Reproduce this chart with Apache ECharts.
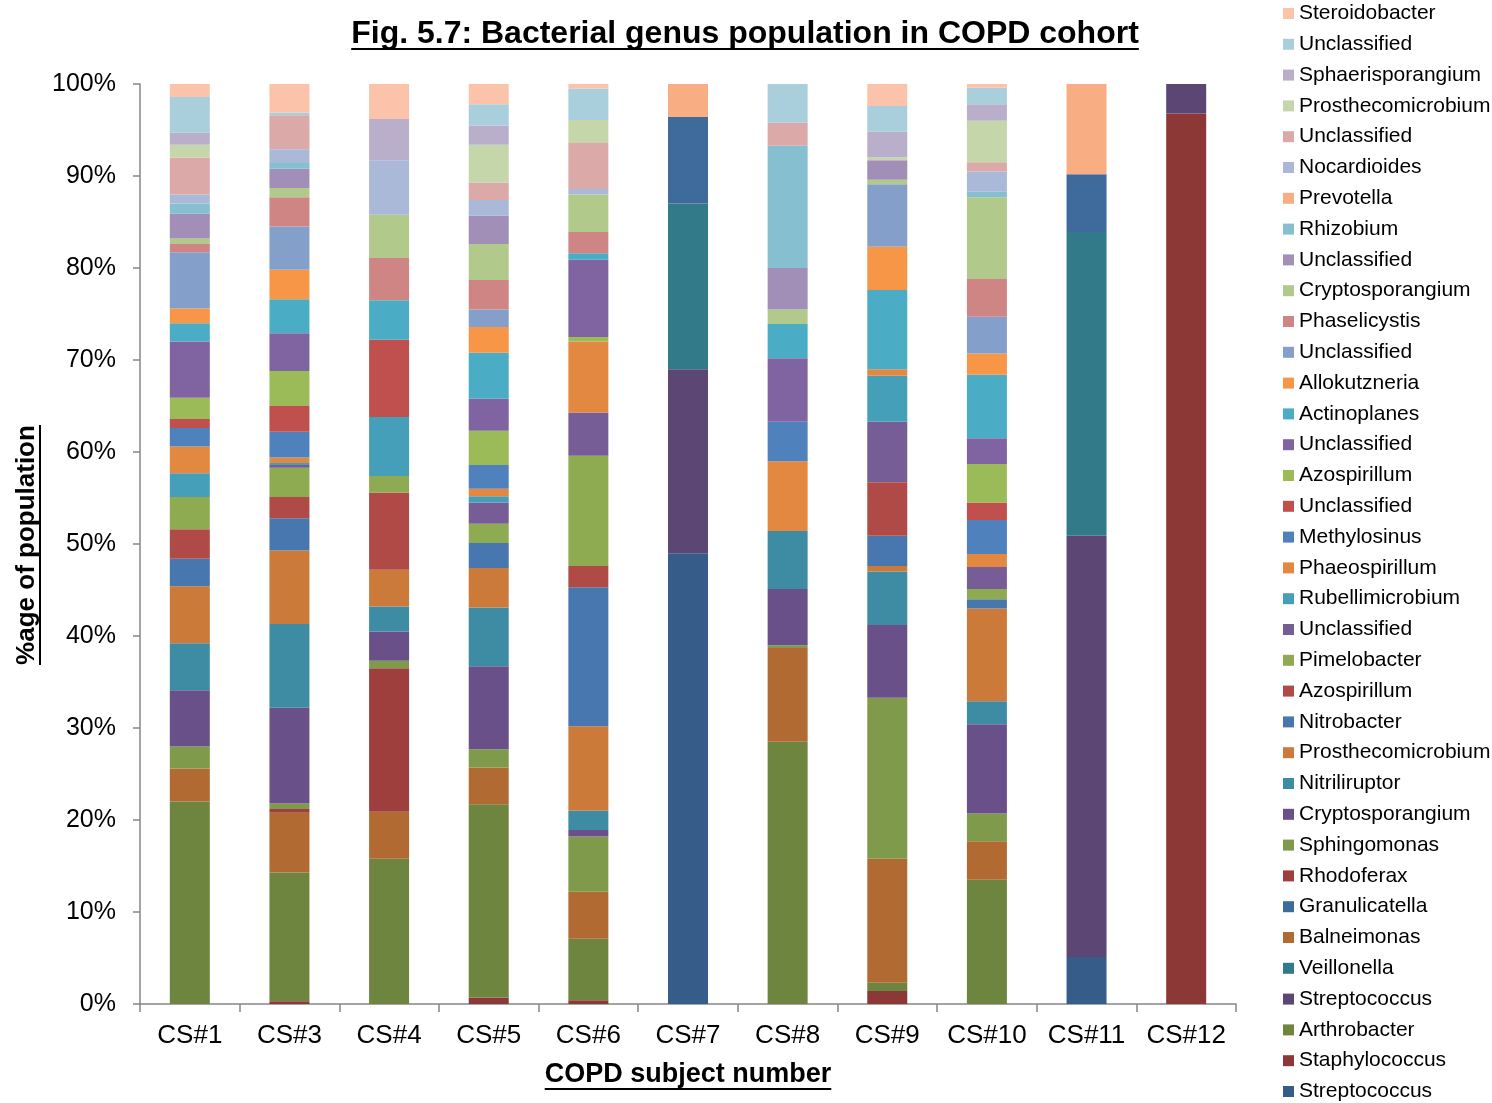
<!DOCTYPE html>
<html>
<head>
<meta charset="utf-8">
<title>Bacterial genus population in COPD cohort</title>
<script src="https://cdn.jsdelivr.net/npm/echarts@6/dist/echarts.min.js"></script>
<style>
  html, body { margin: 0; padding: 0; background: #ffffff; }
  #chart { width: 1492px; height: 1103px; }
</style>
</head>
<body>
<div id="chart"></div>
<script>
// Subjects on the x axis
const subjects = ['CS#1', 'CS#3', 'CS#4', 'CS#5', 'CS#6', 'CS#7', 'CS#8', 'CS#9', 'CS#10', 'CS#11', 'CS#12'];

// Genera in stacking order (bottom of each bar first)
const genera = [
  'Streptococcus', 'Staphylococcus', 'Arthrobacter', 'Streptococcus', 'Veillonella', 'Balneimonas',
  'Granulicatella', 'Rhodoferax', 'Sphingomonas', 'Cryptosporangium', 'Nitriliruptor', 'Prosthecomicrobium',
  'Nitrobacter', 'Azospirillum', 'Pimelobacter', 'Unclassified', 'Rubellimicrobium', 'Phaeospirillum',
  'Methylosinus', 'Unclassified', 'Azospirillum', 'Unclassified', 'Actinoplanes', 'Allokutzneria',
  'Unclassified', 'Phaselicystis', 'Cryptosporangium', 'Unclassified', 'Rhizobium', 'Prevotella',
  'Nocardioides', 'Unclassified', 'Prosthecomicrobium', 'Sphaerisporangium', 'Unclassified', 'Steroidobacter'
];

// One colour per genus, same order as above
const genusColors = [
  '#365d8a', '#8b3836', '#6e853f', '#5c4673', '#327a8a', '#b06a32',
  '#3f6a9c', '#9e3f3d', '#7f9a4a', '#6a5088', '#3d8ca4', '#cc7a39',
  '#4876af', '#b04a47', '#8fab52', '#765d95', '#469fb8', '#e38840',
  '#4f81bd', '#c0504d', '#9bbb59', '#8064a2', '#4bacc6', '#f79646',
  '#849fca', '#cf8583', '#b2c98c', '#a18fb8', '#85bfd0', '#f8ae82',
  '#aab9d7', '#daa9a8', '#c6d6ab', '#baafca', '#a9cedc', '#fbc4aa'
];

// Percentage of population per subject, one value per genus (stacking order)
const cs1  = [0, 0, 22.0, 0, 0, 3.6, 0, 0, 2.4, 6.1, 5.1, 6.2, 3.0, 3.2, 3.5, 0, 2.6, 2.9, 2.0, 1.0, 2.3, 6.1, 2.0, 1.6, 6.1, 0.9, 0.6, 2.7, 1.1, 0, 1.0, 4.0, 1.4, 1.3, 3.9, 1.4];
const cs3  = [0, 0.3, 14.0, 0, 0, 6.5, 0, 0.4, 0.6, 10.4, 9.1, 8.0, 3.5, 2.3, 3.2, 0.3, 0.2, 0.6, 2.8, 2.8, 3.8, 4.1, 3.7, 3.2, 4.7, 3.2, 1.0, 2.1, 0.6, 0, 1.5, 3.7, 0, 0, 0.3, 3.1];
const cs4  = [0, 0, 15.8, 0, 0, 5.1, 0, 15.6, 0.8, 3.2, 2.7, 4.0, 0, 8.4, 1.8, 0, 6.4, 0, 0, 8.4, 0, 0, 4.3, 0, 0, 4.6, 4.7, 0, 0, 0, 5.9, 0, 0, 4.5, 0, 3.8];
const cs5  = [0, 0.7, 21.0, 0, 0, 4.0, 0, 0, 2.0, 9.0, 6.4, 4.3, 2.7, 0, 2.1, 2.3, 0.7, 0.8, 2.6, 0, 3.7, 3.5, 5.0, 2.8, 1.9, 3.2, 3.9, 3.1, 0, 0, 1.7, 1.9, 4.1, 2.1, 2.3, 2.2];
const cs6  = [0, 0.4, 6.7, 0, 0, 5.1, 0, 0, 6.0, 0.7, 2.1, 9.2, 15.1, 2.3, 12.0, 4.7, 0, 7.7, 0, 0, 0.5, 8.4, 0.7, 0, 0, 2.3, 4.1, 0, 0, 0, 0.6, 5.0, 2.5, 0, 3.4, 0.5];
const cs7  = [49.0, 0, 0, 20.0, 18.0, 0, 9.4, 0, 0, 0, 0, 0, 0, 0, 0, 0, 0, 0, 0, 0, 0, 0, 0, 0, 0, 0, 0, 0, 0, 3.6, 0, 0, 0, 0, 0, 0];
const cs8  = [0, 0, 28.5, 0, 0, 10.2, 0, 0, 0.3, 6.1, 6.3, 0, 0, 0, 0, 0, 0, 7.6, 4.3, 0, 0, 6.9, 3.7, 0, 0, 0, 1.6, 4.5, 13.3, 0, 0, 2.5, 0, 0, 4.2, 0];
const cs9  = [0, 1.4, 0.9, 0, 0, 13.5, 0, 0, 17.5, 7.9, 5.8, 0.6, 3.3, 5.8, 0, 6.6, 5.0, 0.7, 0, 0, 0, 0, 8.6, 4.7, 6.8, 0, 0.5, 2.1, 0, 0, 0, 0, 0.3, 2.8, 2.8, 2.4];
const cs10 = [0, 0, 13.5, 0, 0, 4.2, 0, 0, 3.0, 9.7, 2.5, 10.1, 1.0, 0, 1.1, 2.4, 0, 1.4, 3.7, 1.9, 4.2, 2.8, 6.9, 2.3, 4.0, 4.1, 8.9, 0, 0.6, 0, 2.2, 1.0, 4.5, 1.8, 1.8, 0.4];
const cs11 = [5.1, 0, 0, 45.8, 33.0, 0, 6.3, 0, 0, 0, 0, 0, 0, 0, 0, 0, 0, 0, 0, 0, 0, 0, 0, 0, 0, 0, 0, 0, 0, 9.8, 0, 0, 0, 0, 0, 0];
const cs12 = [0, 96.8, 0, 3.2, 0, 0, 0, 0, 0, 0, 0, 0, 0, 0, 0, 0, 0, 0, 0, 0, 0, 0, 0, 0, 0, 0, 0, 0, 0, 0, 0, 0, 0, 0, 0, 0];

const subjectValues = [cs1, cs3, cs4, cs5, cs6, cs7, cs8, cs9, cs10, cs11, cs12];

// Y axis scale (percent)
const yMin = 0, yMax = 100, yStep = 10;

const FONT = '"Liberation Sans", Arial, Helvetica, sans-serif';
const AXIS_GREY = '#868686';

// Several genera share a label, so each series gets a unique key and the
// legend maps the key back to its label.
const seriesKeys = genera.map((g, i) => g + '__' + i);
const keyToLabel = {};
seriesKeys.forEach((k, i) => { keyToLabel[k] = genera[i]; });

const series = genera.map((g, i) => ({
  type: 'bar',
  name: seriesKeys[i],
  stack: 'population',
  barWidth: 40,
  itemStyle: { color: genusColors[i] },
  emphasis: { disabled: true },
  data: subjectValues.map(v => v[i])
}));

function textWidth(str, font) {
  const ctx = document.createElement('canvas').getContext('2d');
  ctx.font = font;
  return ctx.measureText(str).width;
}

function underlinedText(text, font, cx, cy, underlineDy, rotation) {
  const w = textWidth(text, font);
  return {
    type: 'group',
    x: cx, y: cy,
    rotation: rotation || 0,
    children: [
      {
        type: 'text', x: 0, y: 0,
        style: {
          text: text, font: font, fill: '#000000',
          textAlign: 'center', textVerticalAlign: 'middle',
          align: 'center', verticalAlign: 'middle'
        }
      },
      {
        type: 'line',
        shape: { x1: -w / 2, y1: underlineDy, x2: w / 2, y2: underlineDy },
        style: { stroke: '#000000', lineWidth: 2 }
      }
    ]
  };
}

const chart = echarts.init(document.getElementById('chart'), null, { renderer: 'canvas' });

chart.setOption({
  animation: false,
  backgroundColor: '#ffffff',
  textStyle: { fontFamily: FONT },
  grid: { left: 140, right: 256, top: 84, bottom: 99, containLabel: false },
  legend: {
    orient: 'vertical',
    left: 1283,
    top: 3,
    padding: 0,
    itemWidth: 11,
    itemHeight: 11,
    itemGap: 9.8,
    selectedMode: false,
    icon: 'rect',
    data: seriesKeys.slice().reverse(),
    formatter: name => keyToLabel[name],
    textStyle: { fontFamily: FONT, fontSize: 21, color: '#000000' }
  },
  xAxis: {
    type: 'category',
    data: subjects,
    axisLine: { lineStyle: { color: AXIS_GREY, width: 1.5 } },
    axisTick: { show: true, length: 8, lineStyle: { color: AXIS_GREY, width: 1.5 } },
    axisLabel: { fontFamily: FONT, fontSize: 26, color: '#000000', margin: 19, interval: 0, hideOverlap: false },
    splitLine: { show: false }
  },
  yAxis: {
    type: 'value',
    min: yMin, max: yMax, interval: yStep,
    axisLine: { show: true, lineStyle: { color: AXIS_GREY, width: 1.5 } },
    axisTick: { show: true, length: 7, lineStyle: { color: AXIS_GREY, width: 1.5 } },
    axisLabel: { fontFamily: FONT, fontSize: 25, color: '#000000', margin: 24, formatter: '{value}%' },
    splitLine: { show: false }
  },
  graphic: [
    underlinedText('Fig. 5.7: Bacterial genus population in COPD cohort', 'bold 32px ' + FONT, 745, 34, 15, 0),
    underlinedText('COPD subject number', 'bold 27px ' + FONT, 688, 1075, 14, 0),
    underlinedText('%age of population', 'bold 26px ' + FONT, 27, 545, 13, Math.PI / 2)
  ],
  series: series
});
</script>
</body>
</html>
